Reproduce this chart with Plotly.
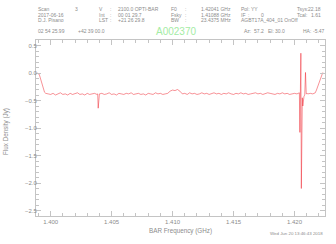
import plotly.graph_objects as go

# ---------------- data ----------------
freq_left = [1.3989, 1.3990, 1.39905, 1.3991, 1.3992, 1.3993, 1.3994, 1.3995, 1.3996, 1.3997]
flux_left = [0.00, -0.01, -0.02, -0.05, -0.13, -0.22, -0.30, -0.35, -0.37, -0.38]

freq_b = [1.3998, 1.4000, 1.4002, 1.4004, 1.4006, 1.4008, 1.4010, 1.4012, 1.4014, 1.4016,
          1.4018, 1.4020, 1.4022, 1.4024, 1.4026, 1.4028, 1.4030, 1.4032, 1.4034, 1.4036,
          1.4038, 1.40386, 1.4039, 1.40394]
flux_b = [-0.38, -0.39, -0.37, -0.40, -0.38, -0.36, -0.39, -0.38, -0.40, -0.37,
          -0.39, -0.38, -0.36, -0.39, -0.38, -0.40, -0.37, -0.39, -0.38, -0.37,
          -0.39, -0.38, -0.64, -0.38]

freq_c = [1.4040, 1.4042, 1.4044, 1.4046, 1.4048, 1.4050, 1.4052, 1.4054, 1.4056, 1.4058,
          1.4060, 1.4062, 1.4064, 1.4066, 1.4068, 1.4070, 1.4072, 1.4074, 1.4076, 1.4078,
          1.4080, 1.4082, 1.4084, 1.4086, 1.4088, 1.4090, 1.4092, 1.4094, 1.4096,
          1.4098, 1.4100, 1.4102, 1.4104, 1.4106]
flux_c = [-0.38, -0.37, -0.39, -0.38, -0.36, -0.39, -0.38, -0.40, -0.37, -0.38,
          -0.39, -0.37, -0.38, -0.36, -0.39, -0.38, -0.37, -0.39, -0.38, -0.40,
          -0.37, -0.38, -0.39, -0.36, -0.38, -0.37, -0.39, -0.38, -0.37,
          -0.33, -0.31, -0.32, -0.30, -0.33]

freq_d = [1.4108, 1.4110, 1.4112, 1.4114, 1.4116, 1.4118, 1.4120, 1.4122, 1.4124, 1.4126,
          1.4128, 1.4130, 1.4132, 1.4134, 1.4136, 1.4138, 1.4140, 1.4142, 1.4144, 1.4146,
          1.4148, 1.4150, 1.4152, 1.4154, 1.4156, 1.4158, 1.4160, 1.4162, 1.4164, 1.4166,
          1.4168, 1.4170, 1.4172, 1.4174, 1.4176, 1.4178, 1.4180, 1.4182, 1.4184, 1.4186,
          1.4188, 1.4190, 1.4192, 1.4194, 1.4196, 1.4198, 1.4200, 1.4202]
flux_d = [-0.38, -0.37, -0.39, -0.36, -0.38, -0.37, -0.39, -0.38, -0.36, -0.38,
          -0.37, -0.39, -0.38, -0.36, -0.38, -0.37, -0.39, -0.37, -0.38, -0.36,
          -0.38, -0.39, -0.37, -0.38, -0.36, -0.38, -0.37, -0.39, -0.38, -0.37,
          -0.36, -0.38, -0.37, -0.39, -0.38, -0.36, -0.37, -0.38, -0.39, -0.37,
          -0.38, -0.36, -0.38, -0.37, -0.39, -0.38, -0.37, -0.38]

freq_spike = [1.42036, 1.42040, 1.42044, 1.42048, 1.42052, 1.42056, 1.42060, 1.42064,
              1.42068, 1.42072, 1.42078, 1.42084, 1.42090, 1.42096, 1.42102]
flux_spike = [-0.37, -0.36, -1.08, -0.50, 0.36, -2.10, -0.55, -0.45,
              -0.60, -0.48, -0.42, -0.40, 0.01, -0.38, -0.37]

freq_e = [1.4211, 1.4213, 1.4215, 1.4216, 1.4217, 1.4218, 1.4219, 1.4220, 1.4221, 1.4222, 1.42232]
flux_e = [-0.38, -0.37, -0.38, -0.37, -0.36, -0.31, -0.24, -0.17, -0.10, -0.04, 0.01]

freq = freq_left + freq_b + freq_c + freq_d + freq_spike + freq_e
flux = flux_left + flux_b + flux_c + flux_d + flux_spike + flux_e

x_range = [1.3988, 1.4225]
y_range = [-2.6, 0.6]

# ---------------- figure ----------------
W, H = 336, 244
L, R, T, B = 36, 11, 40, 28
GREY = "#8c8c8c"
AX = "#c4c4c4"
FONT = "Liberation Sans"

fig = go.Figure()
fig.add_trace(go.Scatter(x=freq, y=flux, mode="lines",
                         line=dict(color="rgba(238,25,35,0.8)", width=0.6),
                         hoverinfo="skip", showlegend=False))

axis_common = dict(showline=True, linecolor=AX, linewidth=1, mirror="ticks",
                   ticks="inside", ticklen=5, tickcolor=AX, tickwidth=1,
                   showgrid=False, zeroline=False,
                   tickfont=dict(family=FONT, size=6, color=GREY))

fig.update_xaxes(range=x_range, tick0=1.400, dtick=0.005, tickformat=".3f",
                 minor=dict(dtick=0.001, ticks="inside", ticklen=3, tickcolor=AX, showgrid=False),
                 **axis_common)
fig.update_yaxes(range=y_range, tick0=0, dtick=0.5, tickformat=".1f",
                 ticklabelstandoff=-3,
                 minor=dict(dtick=0.1, ticks="inside", ticklen=3, tickcolor=AX, showgrid=False),
                 **axis_common)

pw, ph = W - L - R, H - T - B


def px(xp, yp):
    return (xp - L) / pw, (H - B - yp) / ph


annotations = []


def txt(s, xp, yp, size=5, color=GREY, anchor="left", angle=0):
    x, y = px(xp, yp)
    annotations.append(dict(text=s, x=x, y=y, xref="paper", yref="paper",
                            xanchor=anchor, yanchor="middle", showarrow=False,
                            textangle=angle,
                            font=dict(family=FONT, size=size, color=color)))


y1, y2, y3, y4 = 9, 14.7, 20.3, 31
# header line 1
txt("Scan", 36, y1); txt("3", 72.5, y1)
txt("V", 96.7, y1); txt(":", 107.7, y1); txt("2100.0 OPTI-BAR", 115.7, y1)
txt("F0", 168.7, y1); txt(":", 182.7, y1); txt("1.42041 GHz", 199.3, y1)
txt("Pol:", 238.7, y1); txt("YY", 249.3, y1)
txt("Tsys:", 295, y1); txt("22.18", 322.7, y1, anchor="right")
# line 2
txt("2017-06-16", 36, y2)
txt("Int", 96.7, y2); txt(":", 107.7, y2); txt("00 01 29.7", 115.7, y2)
txt("Fsky", 168.7, y2); txt(":", 182.7, y2); txt("1.41088 GHz", 199.3, y2)
txt("IF", 238.7, y2); txt(":", 246, y2); txt("0", 258.5, y2)
txt("Tcal:", 295, y2); txt("1.61", 322.7, y2, anchor="right")
# line 3
txt("D.J. Pisano", 36, y3)
txt("LST", 96.7, y3); txt(":", 107.7, y3); txt("+21 26 29.8", 115.7, y3)
txt("BW", 168.7, y3); txt(":", 182.7, y3); txt("23.4375 MHz", 199.3, y3)
txt("AGBT17A_404_01 OnOff", 238.7, y3)
# line 4
txt("02 54 25.99", 36, y4); txt("+42 39 00.0", 76, y4)
txt("A002370", 154, y4, size=10, color="#a4eca4")
txt("Az:", 242, y4); txt("57.2", 252, y4)
txt("El:", 266, y4); txt("30.0", 273.3, y4)
txt("HA:", 301, y4); txt("-5.47", 311, y4)

# axis titles
txt("BAR Frequency (GHz)", 180.5, 230.7, size=6.3, anchor="center")
txt("Flux Density (Jy)", 5.5, 131.5, size=6.3, anchor="center", angle=-90)
# timestamp
txt("Wed Jun 20 13:46:43 2018", 325, 233.5, size=4.4, anchor="right")

fig.update_layout(width=W, height=H, margin=dict(l=L, r=R, t=T, b=B, autoexpand=False),
                  paper_bgcolor="white", plot_bgcolor="white",
                  annotations=annotations, showlegend=False)

fig.write_html("out.html", config={"displayModeBar": False})
